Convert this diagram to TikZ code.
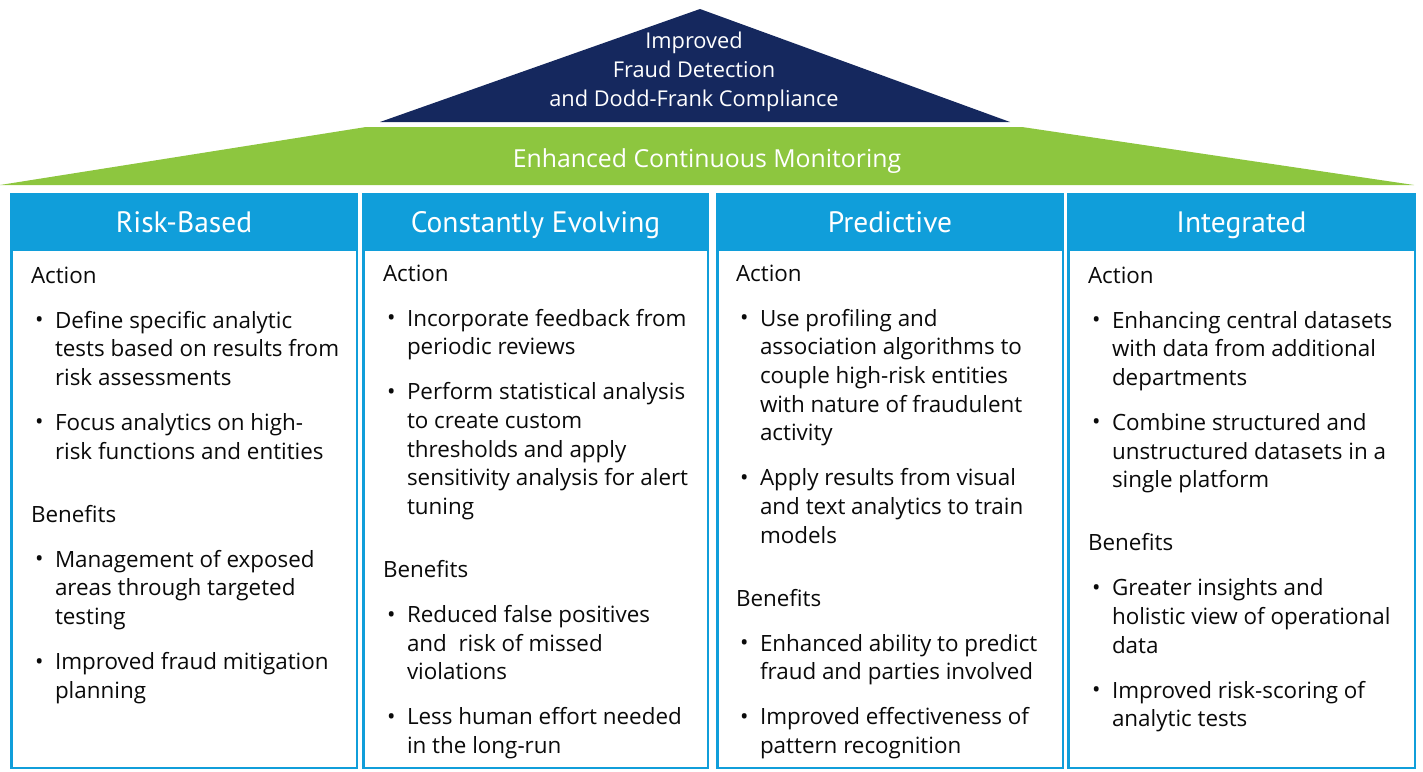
\documentclass[tikz,border=0pt]{standalone}
\usepackage{fontspec}
\setmainfont{Open Sans}
\newfontfamily\condfont{PT Sans}
\definecolor{navy}{RGB}{21,40,94}
\definecolor{lgreen}{RGB}{141,198,63}
\definecolor{hblue}{RGB}{16,158,218}
\definecolor{bodytext}{RGB}{10,10,10}
\newcommand\Hd[1]{\par\noindent #1\par\vspace{16.3pt}}
\newcommand\It[1]{\par\noindent\hangindent=24pt\hangafter=1\makebox[24pt][l]{\hspace{4pt}\raisebox{0.5pt}{•}}#1\par\vspace{16.3pt}}
\newcommand\Gap{\vspace{18pt}}
\tikzset{
  colbody/.style={anchor=base west, inner sep=0pt, outer sep=0pt, text=bodytext,
    font=\fontsize{22.4}{28.7}\selectfont},
  colhead/.style={anchor=base, inner sep=0pt, text=white,
    font=\condfont\fontsize{29.5}{34}\selectfont},
}
\newcommand\Column[4]{% left, right, name, header
  \fill[hblue] (#1,193) rectangle (#2,769);
  \fill[white] (#1+2.5,251) rectangle (#2-2.5,766.5);
  \node[colhead] (#3) at ({(#1+#2)/2},232) {#4};
}
\begin{document}
\begin{tikzpicture}[x=1pt,y=-1pt]
\useasboundingbox (0,0) rectangle (1423,771);
% roof
\fill[navy] (700,9) -- (1010,122) -- (380,122) -- cycle;
\fill[lgreen] (366,127) -- (1022,127) -- (1414,185) -- (0,185) -- cycle;
\node[anchor=base, inner sep=0pt, text=white, align=center,
  font=\fontsize{21.8}{29}\selectfont] (goal) at (694,106.5)
  {Improved\\Fraud Detection\\and Dodd-Frank Compliance};
\node[anchor=base, inner sep=0pt, text=white,
  font=\fontsize{24.8}{28}\selectfont] (ecm) at (707,167.5) {Enhanced Continuous Monitoring};
% columns
\Column{10}{358}{h1}{Risk-Based}
\Column{362}{709}{h2}{Constantly Evolving}
\Column{716}{1064}{h3}{Predictive}
\Column{1067}{1416}{h4}{Integrated}
\node[colbody] (b1) at (31,283) {\begin{minipage}[t]{330pt}
\Hd{Action}
\It{Define specific analytic\\tests based on results from\\risk assessments}
\It{Focus analytics on high-\\risk functions and entities}
\Gap
\Hd{Benefits}
\It{Management of exposed\\areas through targeted\\testing}
\It{Improved fraud mitigation\\planning}
\end{minipage}};
\node[colbody] (b2) at (383,281) {\begin{minipage}[t]{330pt}
\Hd{Action}
\It{Incorporate feedback from\\periodic reviews}
\It{Perform statistical analysis\\to create custom\\thresholds and apply\\sensitivity analysis for alert\\tuning}
\Gap
\Hd{Benefits}
\It{Reduced false positives\\and\ \ risk of missed\\violations}
\It{Less human effort needed\\in the long-run}
\end{minipage}};
\node[colbody] (b3) at (736,281) {\begin{minipage}[t]{330pt}
\Hd{Action}
\It{Use profiling and\\association algorithms to\\couple high-risk entities\\with nature of fraudulent\\activity}
\It{Apply results from visual\\and text analytics to train\\models}
\Gap
\Hd{Benefits}
\It{Enhanced ability to predict\\fraud and parties involved}
\It{Improved effectiveness of\\pattern recognition}
\end{minipage}};
\node[colbody] (b4) at (1088,283) {\begin{minipage}[t]{330pt}
\Hd{Action}
\It{Enhancing central datasets\\with data from additional\\departments}
\It{Combine structured and\\unstructured datasets in a\\single platform}
\Gap
\Hd{Benefits}
\It{Greater insights and\\holistic view of operational\\data}
\It{Improved risk-scoring of\\analytic tests}
\end{minipage}};
\end{tikzpicture}
\end{document}
